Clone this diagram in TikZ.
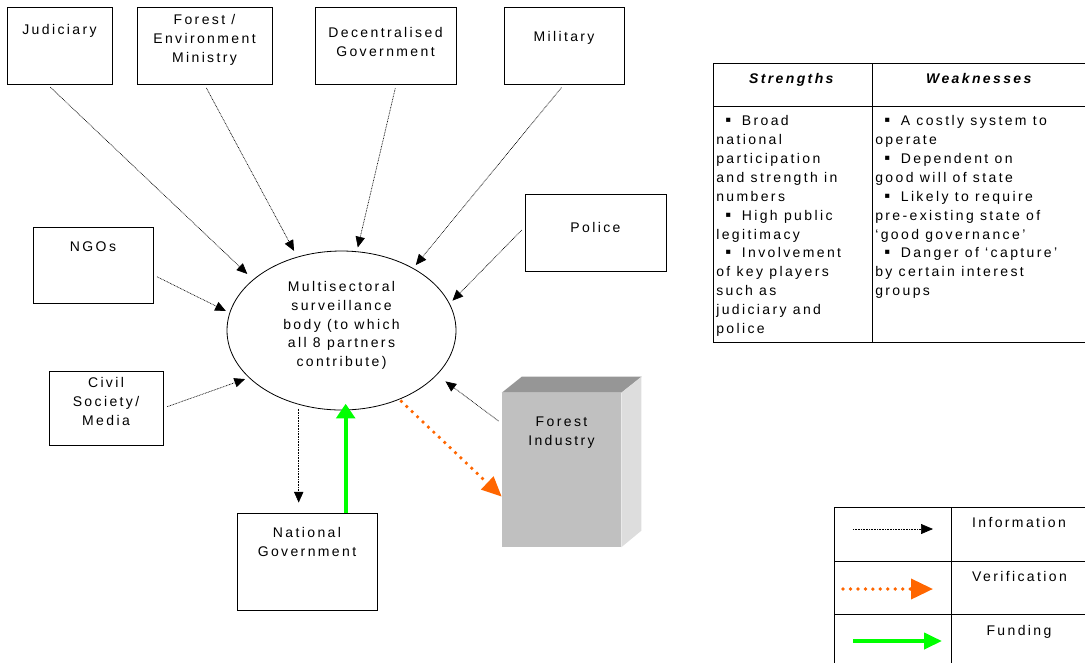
\documentclass[tikz,border=0pt]{standalone}
\usepackage{fontspec}
\setmainfont{Liberation Sans}[LetterSpace=17]
\usetikzlibrary{arrows.meta,shapes.geometric}
\definecolor{verif}{HTML}{FF6600}
\definecolor{fund}{HTML}{00FF00}
\definecolor{indfront}{HTML}{C0C0C0}
\definecolor{indtop}{HTML}{969696}
\definecolor{indside}{HTML}{DDDDDD}
\newcommand{\tabfont}{\fontsize{10.5}{14.2}\selectfont}
\newcommand{\bul}{\hspace*{6.75pt}{\fontsize{12.5}{14}\selectfont ▪}\hspace{8pt}}

\tikzset{
  box/.style={draw, line width=0.7pt, inner sep=0pt},
  txt/.style={anchor=north, align=center, inner sep=0pt},
  info/.style={line width=0.5pt, dash pattern=on 0.6pt off 0.6pt,
    -{Triangle[length=8pt,width=7pt]}, shorten <=3pt, shorten >=3pt},
  verify/.style={draw=verif, line width=2.8pt, dash pattern=on 0pt off 5.6pt,
    line cap=round, -{Triangle[length=15pt,width=13pt]}},
  funding/.style={draw=fund, line width=3pt, -{Triangle[length=11pt,width=14pt]}},
  rule/.style={line width=0.6pt}
}

\begin{document}
\begin{tikzpicture}[x=0.75pt, y=-0.75pt, font=\fontsize{10.5}{14}\selectfont]
\useasboundingbox (0,0) rectangle (1085,662);
\clip (0,0) rectangle (1085,662);

\node[box, minimum width=78.75pt, minimum height=57.75pt,
  label={[txt,yshift=-13.5pt]north:Judiciary}] (jud) at (59.5,45.5) {};
\node[box, minimum width=101.25pt, minimum height=57.75pt,
  label={[txt,yshift=-6pt]north:{Forest /\\Environment\\Ministry}}] (fem) at (204.5,45.5) {};
\node[box, minimum width=105.75pt, minimum height=57.75pt,
  label={[txt,yshift=-15.75pt]north:{Decentralised\\Government}}] (dec) at (385.5,45.5) {};
\node[box, minimum width=90pt, minimum height=57.75pt,
  label={[txt,yshift=-18.75pt]north:Military}] (mil) at (564,45.5) {};
\node[box, minimum width=105.75pt, minimum height=57.75pt,
  label={[txt,yshift=-21.75pt]north:Police}] (pol) at (595.5,232.5) {};
\node[box, minimum width=90pt, minimum height=57pt,
  label={[txt,yshift=-11.25pt]north:NGOs}] (ngo) at (93,265) {};
\node[box, minimum width=85.5pt, minimum height=55.5pt,
  label={[txt,yshift=-5.25pt]north:{Civil\\Society/\\Media}}] (civ) at (106,408) {};
\node[box, minimum width=105pt, minimum height=72.75pt,
  label={[txt,yshift=-11.25pt]north:{National\\Government}}] (nat) at (307,561.5) {};

\node[box, ellipse, line width=0.6pt, minimum width=171.75pt, minimum height=119.25pt,
  label={[txt,yshift=-23pt]north:{Multisectoral\\surveillance\\body (to which\\all 8 partners\\contribute)}}] (body) at (341.5,330.5) {};

\node[fill=indfront, inner sep=0pt, minimum width=89.25pt, minimum height=115.5pt,
  label={[txt,yshift=-18pt]north:{Forest\\Industry}}] (ind) at (561.5,470) {};
\fill[indtop] (ind.north west) -- ++(20,-16) -- ++(120,0) -- (ind.north east) -- cycle;
\fill[indside] (ind.north east) -- ++(20,-16) -- ++(0,154) -- (ind.south east) -- cycle;

\draw[info, shorten >=6pt] ([xshift=-9pt]jud.south) -- (body.150);
\draw[info, shorten >=5pt] (fem.south) -- (body.121);
\draw[info] ([xshift=8pt]dec.south) -- (body.79);
\draw[info] (mil.south) -- (body.41);
\draw[info] ([yshift=4pt]pol.west) -- (body.14);
\draw[info] ([yshift=-7.5pt]ngo.east) -- (body.171);
\draw[info] (civ.east) -- (body.207);
\draw[info, shorten >=8pt] ([yshift=-23pt]ind.north west) -- (body.335);
\draw[info, shorten >=7.5pt] (body.240) -- (body.240 |- nat.north);
\draw[funding, shorten >=-5pt] ([xshift=29pt]nat.north) -- ([xshift=29pt]nat.north |- body.south);
\draw[verify, shorten <=2pt] (body.310) -- ([yshift=-20pt]ind.west);

\draw[rule] (1088,63) -- (713,63) -- (713,342) -- (1088,342) -- cycle;
\draw[rule] (713,106) -- (1088,106);
\draw[rule] (872,63) -- (872,342);
\node[anchor=base, inner sep=0pt] (shead) at (792.5,83) {\textbf{\textit{Strengths}}};
\node[anchor=base, inner sep=0pt] (whead) at (980,83) {\textbf{\textit{Weaknesses}}};
\node[anchor=north west, align=left, inner sep=0pt, font=\tabfont] (slist) at (716,115)
  {\bul Broad\\national\\participation\\and strength in\\numbers\\
   \bul High public\\legitimacy\\\bul Involvement\\of key players\\
   such as\\judiciary and\\police};
\node[anchor=north west, align=left, inner sep=0pt, font=\tabfont] (wlist) at (875,115)
  {\bul A costly system to\\operate\\\bul Dependent on\\good will of state\\
   \bul Likely to require\\pre-existing state of\\‘good governance’\\
   \bul Danger of ‘capture’\\by certain interest\\groups};

\draw[rule] (834,680) -- (834,507) -- (1100,507);
\draw[rule] (951,507) -- (951,680);
\draw[rule] (834,561) -- (1100,561);
\draw[rule] (834,614) -- (1100,614);
\node[anchor=base, inner sep=0pt] (linfo) at (1019,527) {Information};
\node[anchor=base, inner sep=0pt] (lverif) at (1019.5,581) {Verification};
\node[anchor=base, inner sep=0pt] (lfund) at (1019,635) {Funding};
\coordinate (infoA) at (853,529);
\coordinate (infoB) at (933,529);
\coordinate (verifA) at (843,589);
\coordinate (verifB) at (933,589);
\coordinate (fundA) at (853,641);
\coordinate (fundB) at (942,641);
\draw[info, shorten <=0pt, shorten >=0pt, -{Triangle[length=9pt,width=7.5pt]}] (infoA) -- (infoB);
\draw[verify, -{Triangle[length=16.5pt,width=15pt]}] (verifA) -- (verifB);
\draw[funding, -{Triangle[length=13.5pt,width=12pt]}] (fundA) -- (fundB);
\end{tikzpicture}
\end{document}
